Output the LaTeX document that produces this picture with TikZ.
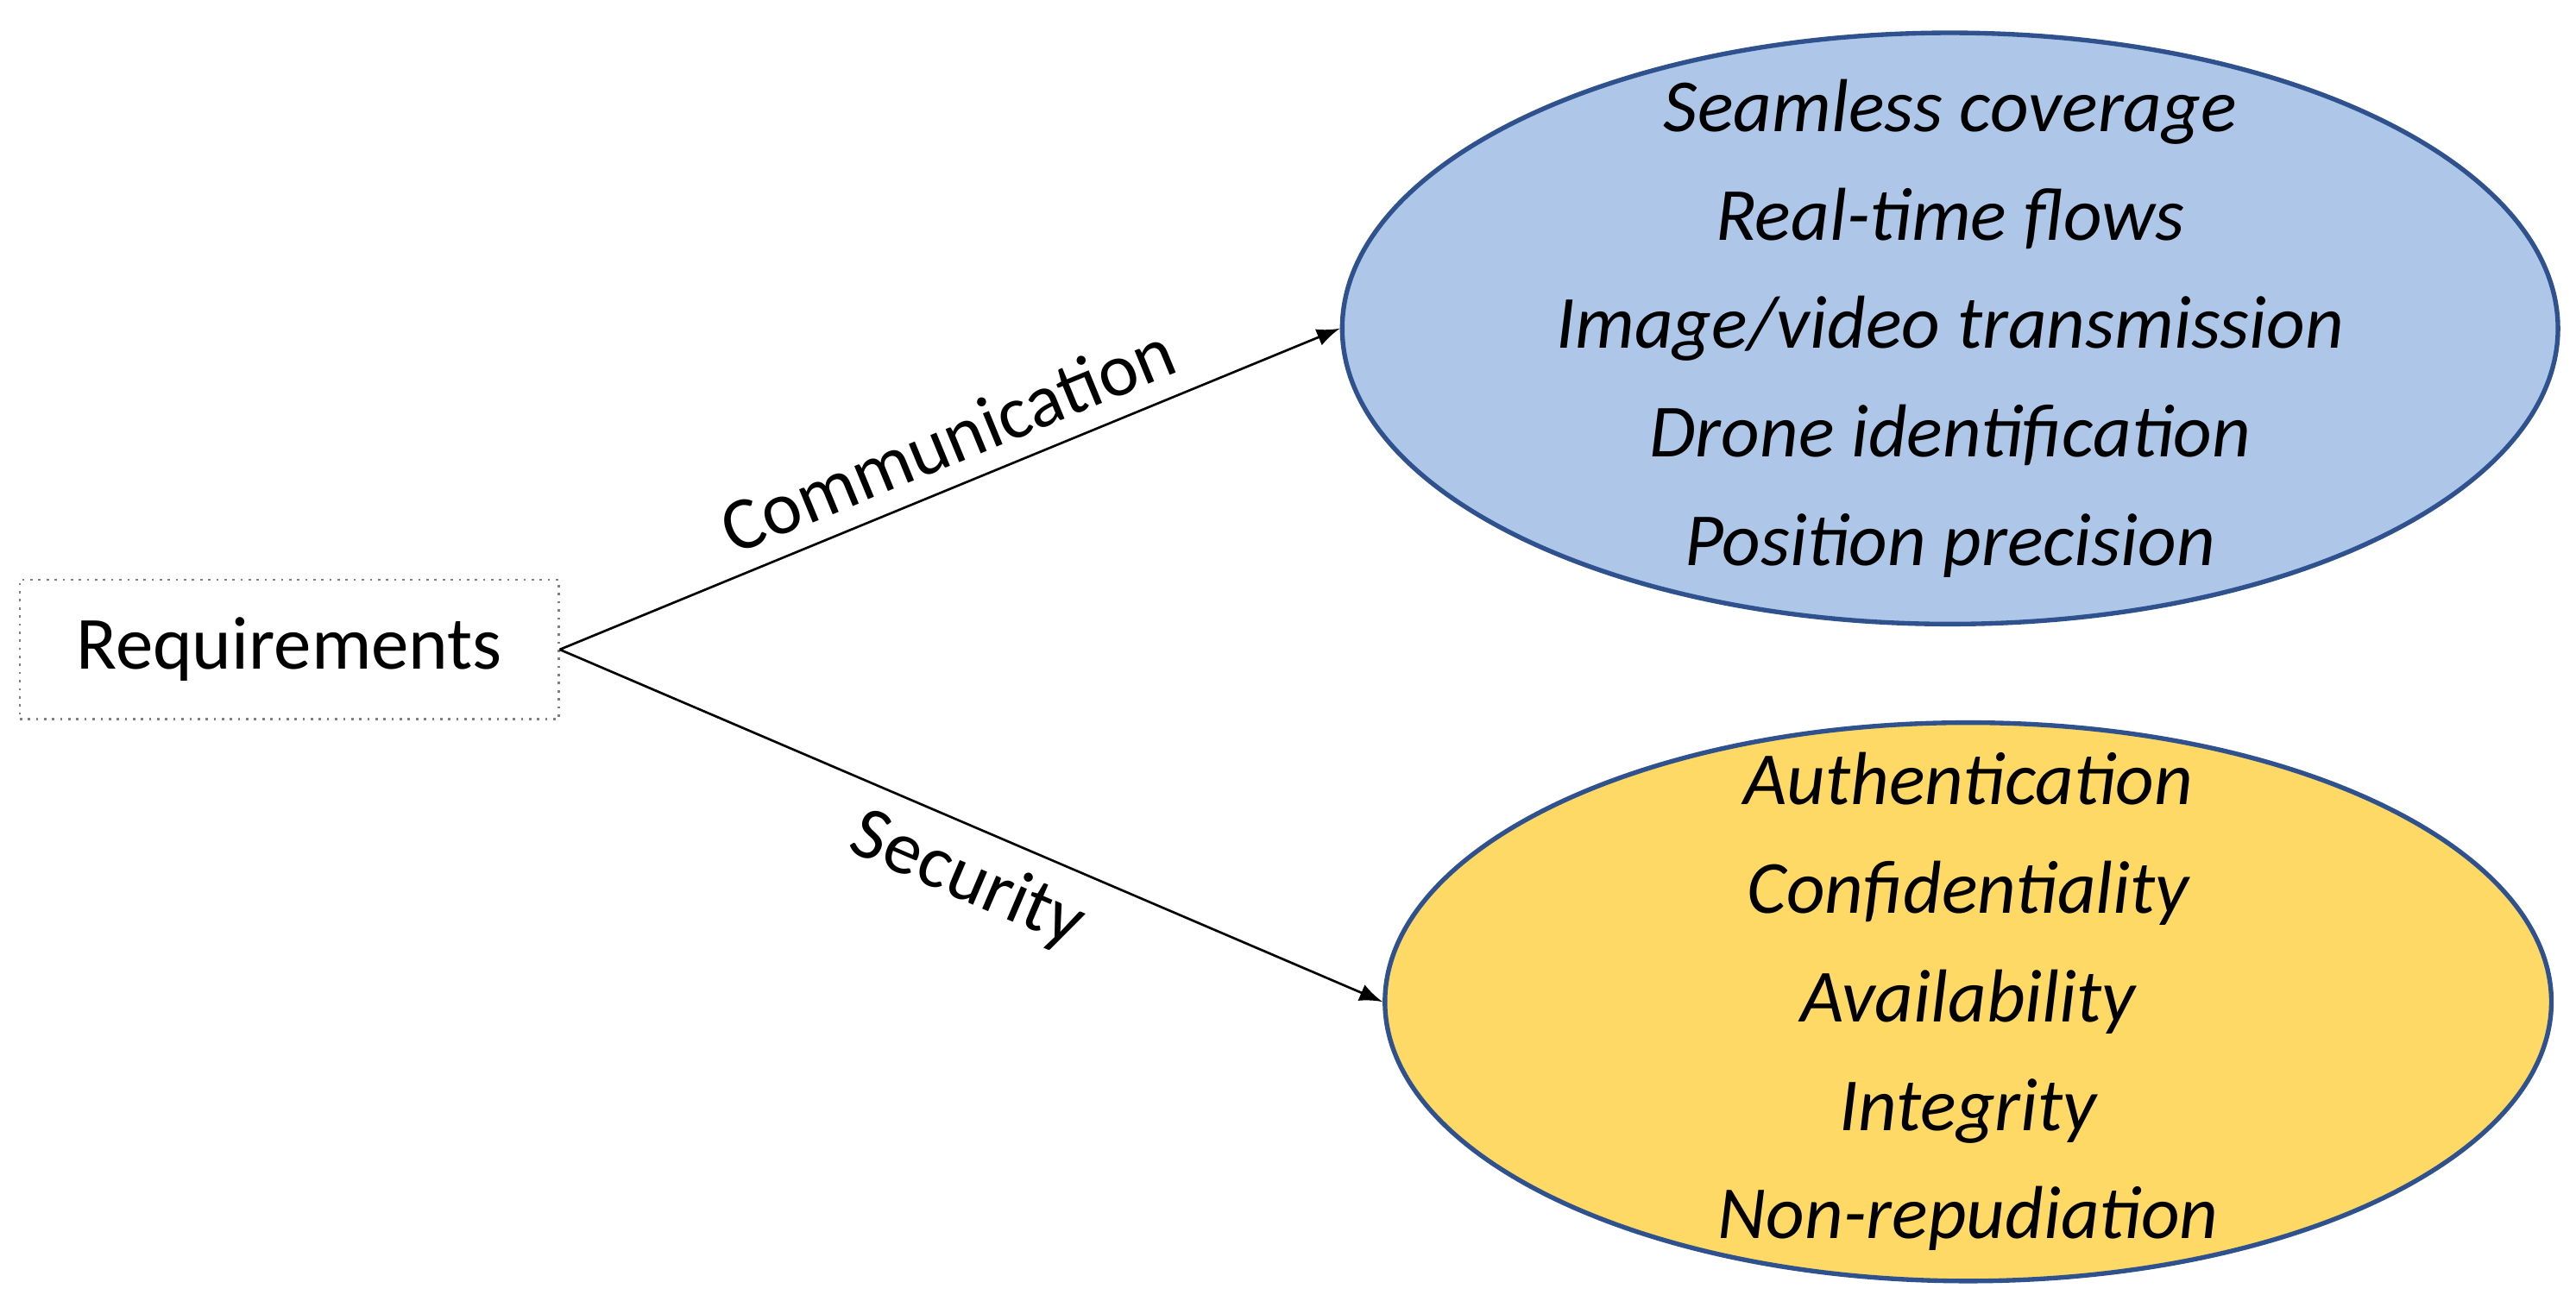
\documentclass[tikz,border=0pt]{standalone}
\usepackage{fontspec}
\setmainfont{Carlito}
\usetikzlibrary{shapes.geometric,positioning}
\definecolor{commblue}{RGB}{174,199,232}
\definecolor{secyellow}{RGB}{255,217,102}
\definecolor{rimblue}{RGB}{47,82,143}
\tikzset{
  group/.style={ellipse,draw=rimblue,line width=0.8pt,inner sep=0pt},
  items/.style={align=center,font=\fontsize{13}{18.8}\selectfont\itshape,inner sep=0pt},
  lbl/.style={font=\fontsize{13}{16}\selectfont,sloped}
}
\begin{document}
\begin{tikzpicture}[>=latex]
   \useasboundingbox (0,0) rectangle (15.68,7.92);
   \node[draw=gray,densely dotted,minimum width=3.28cm,minimum height=0.85cm,font=\fontsize{13}{16}\selectfont] (req) at (1.76,3.965) {Requirements};
   \node[group,fill=commblue,minimum width=7.4cm,minimum height=3.6cm] (comm) at (11.87,5.92) {};
   \node[items] (commtxt) at (comm.center)
     {Seamless coverage\\Real-time flows\\Image/video transmission\\Drone identification\\Position precision};
   \node[group,fill=secyellow,minimum width=7.1cm,minimum height=3.4cm] (sec) at (11.98,1.82) {};
   \node[items] (sectxt) at (sec.center)
     {Authentication\\Confidentiality\\Availability\\Integrity\\Non-repudiation};
    \draw[->] (req.east) -- node[lbl,above,pos=0.52] {Communication} (comm.west);
    \draw[->] (req.east) -- node[lbl,below,pos=0.52] {Security} (sec.west);
\end{tikzpicture}
\end{document}
